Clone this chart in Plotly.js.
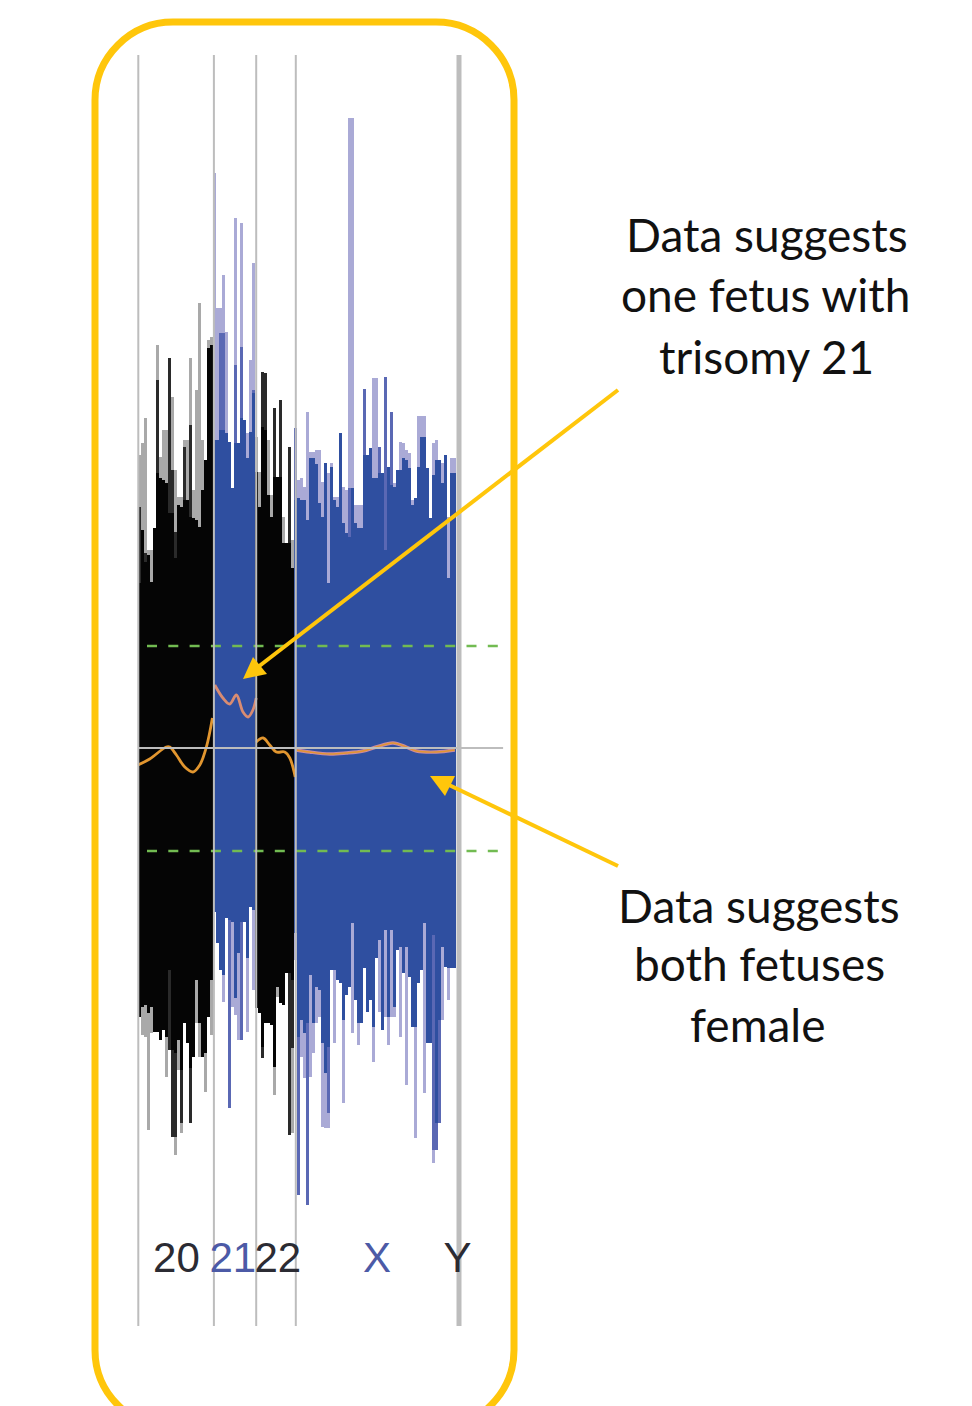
<!DOCTYPE html>
<html><head><meta charset="utf-8">
<script src="https://cdn.plot.ly/plotly-3.0.1.min.js"></script>
<style>html,body{margin:0;padding:0;background:#fff;overflow:hidden}#c{width:972px;height:1406px}.barlayer{filter:blur(.6px)}</style>
</head><body><div id="c"></div>
<script>
// Chromosome names and first bin of each chromosome
const chromosomes = ["20", "21", "22", "X"];
const chromStart = [0, 25, 39, 52];
const boundaries = [0.1, 25.3, 39.4, 52.6, 107];
const boundarySpan = [693, -578];
const tickBins = [12.8, 31.6, 46.6, 79.7, 106.5];
const tickLabels = ["20", "21", "22", "X", "Y"];
const tickColors = ["#2b2b33", "#4c5aa6", "#2b2b33", "#4c5aa6", "#2b2b33"];

// Upper (positive) envelope per bin: pale, mid, solid
const c20UpPale  = [293,305,330,198,198,220,403,291,318,318,390,351,278,251,251,308,308,390,258,358,445,308,288,408,411];
const c20UpMid   = [241,218,195,193,166,220,368,270,268,265,390,278,216,243,241,301,248,323,230,228,221,258,288,400,403];
const c20UpSolid = [165,218,186,193,166,220,275,270,268,265,235,235,190,243,241,248,248,231,230,228,221,258,288,400,403];
const c21UpPale  = [575,440,440,473,416,306,260,530,305,525,328,315,388,485];
const c21UpMid   = [308,308,415,415,315,306,260,383,305,401,328,290,316,358];
const c21UpSolid = [308,308,318,318,315,306,260,305,305,330,328,290,316,355];
const c22UpPale  = [311,276,376,375,308,253,340,271,348,231,205,301,208];
const c22UpMid   = [276,241,376,375,253,231,340,271,348,205,205,301,180];
const c22UpSolid = [276,241,321,318,253,231,271,271,271,205,205,205,180];
const cXUpPale   = [320,268,270,261,336,296,296,298,298,266,285,275,285,251,251,315,261,258,630,630,243,243,243,359,293,300,370,370,301,275,371,281,336,265,278,306,305,298,295,248,250,332,332,332,280,230,305,308,288,285,293,231,290,290];
const cXUpMid    = [320,250,248,248,228,290,290,284,245,231,285,165,281,248,241,315,225,215,260,260,225,220,220,359,293,300,270,270,301,275,371,281,336,261,278,278,290,288,280,243,250,281,311,311,280,230,273,288,288,265,293,170,275,275];
const cXUpSolid  = [248,250,248,248,228,290,290,284,245,231,285,165,281,248,241,315,225,215,211,260,225,220,220,293,293,300,270,270,275,275,198,281,263,261,278,278,290,288,280,243,250,281,311,311,280,230,273,288,288,265,293,170,275,275];

// Lower (negative) envelope per bin, as magnitudes: pale, mid, solid
const c20DnPale  = [269,287,289,382,285,284,284,292,282,329,302,389,407,322,385,275,295,375,309,275,309,309,344,269,287];
const c20DnMid   = [269,259,257,265,259,284,284,292,282,289,302,389,389,292,375,275,295,375,309,232,275,309,305,269,232];
const c20DnSolid = [269,259,257,265,259,284,284,292,282,289,222,302,305,292,322,275,295,320,309,232,275,309,305,269,232];
const c21DnPale  = [164,195,222,254,170,360,259,267,292,292,174,284,159,242];
const c21DnMid   = [164,195,222,227,170,360,174,250,205,292,174,210,159,162];
const c21DnSolid = [164,195,222,227,170,172,174,250,205,174,174,210,159,162];
const c22DnPale  = [260,265,310,275,275,277,347,249,255,257,225,387,385];
const c22DnMid   = [260,265,310,275,275,277,319,239,255,257,225,387,300];
const c22DnSolid = [260,265,299,275,275,277,319,239,255,257,225,225,232];
const cXDnPale   = [212,447,309,330,457,329,305,275,269,379,380,380,222,295,232,235,355,247,239,285,252,297,275,220,264,252,314,210,264,282,269,297,269,269,202,289,225,337,229,279,390,235,222,345,295,295,415,402,375,272,219,252,220,220];
const cXDnMid    = [185,447,272,285,457,227,275,239,242,295,325,365,222,222,232,235,272,247,239,175,252,275,275,220,264,252,279,210,192,282,182,269,182,259,202,199,225,199,229,279,279,235,222,175,295,295,402,402,375,199,219,220,220,220];
const cXDnSolid  = [185,289,272,285,275,227,275,239,242,295,325,299,222,222,232,235,272,247,239,175,252,275,275,220,264,252,279,210,192,282,182,269,182,259,202,199,225,199,229,279,279,235,222,175,295,295,187,375,272,199,219,220,220,220];

// Smoothed trend per chromosome
const c20TrendX = [0,3.9,9.4,10.6,12.8,15.6,18.3,20.6,22.8,24.8];
const c20TrendY = [-17,-11,1,1,-7,-19,-24,-17,1,30];
const c21TrendX = [25.6,28.3,30.6,32.8,35,36.7,38.3,39.4];
const c21TrendY = [63,50,44,53,36,31,38,50];
const c22TrendX = [39.4,41.7,43.9,46.1,48.9,50.6,52.4];
const c22TrendY = [6,10,3,-4,-4,-10,-29];
const cXTrendX  = [52.8,57.2,63.9,69.4,75,79.4,85,89.4,92.8,99.4,105.6];
const cXTrendY  = [-2,-4,-6,-5,-3,1,5,1,-3,-4,-2];

// Reference levels
const thresholdHigh = 102;
const thresholdLow = -103;
const refSpan = [3, 122];
const zeroSpan = [0, 121.7];

// Callouts
const noteTop = ["Data suggests", "one fetus with", "trisomy 21"];
const noteBottom = ["Data suggests", "both fetuses", "female"];

const PLOT_H = 1330, AXIS_PX = 1229, W = 972;
const px = p => p / W, py = p => (PLOT_H - p) / PLOT_H;

const blackShades = ["#a9a9a9", "#2a2a2a", "#050505"];
const blueShades = ["#aaaad6", "#5a68b4", "#2f4fa0"];
const groups = [
  {up:[c20UpPale,c20UpMid,c20UpSolid], dn:[c20DnPale,c20DnMid,c20DnSolid], shades:blackShades},
  {up:[c21UpPale,c21UpMid,c21UpSolid], dn:[c21DnPale,c21DnMid,c21DnSolid], shades:blueShades},
  {up:[c22UpPale,c22UpMid,c22UpSolid], dn:[c22DnPale,c22DnMid,c22DnSolid], shades:blackShades},
  {up:[cXUpPale,cXUpMid,cXUpSolid], dn:[cXDnPale,cXDnMid,cXDnSolid], shades:blueShades}
];
const traces = [];
groups.forEach((g, gi) => {
  [0,1,2].forEach(level => {
    const xs = g.up[level].map((_, i) => chromStart[gi] + i + 0.5);
    traces.push({type:"bar", name:chromosomes[gi], x:xs, y:g.up[level], width:1, marker:{color:g.shades[level], line:{width:0}}, hoverinfo:"skip"});
    traces.push({type:"bar", name:chromosomes[gi], x:xs, y:g.dn[level].map(v => -v), width:1, marker:{color:g.shades[level], line:{width:0}}, hoverinfo:"skip"});
  });
});
const lineTrace = (x, y, color, width, extra) => ({type:"scatter", mode:"lines", x, y, hoverinfo:"skip", line:Object.assign({color, width}, extra || {})});
traces.push(lineTrace(c20TrendX, c20TrendY, "#e2962f", 2.8, {shape:"spline"}));
traces.push(lineTrace(c21TrendX, c21TrendY, "#d98c72", 2.8, {shape:"spline"}));
traces.push(lineTrace(c22TrendX, c22TrendY, "#e2962f", 2.8, {shape:"spline"}));
traces.push(lineTrace(cXTrendX, cXTrendY, "#c98aa0", 3.4, {shape:"spline"}));
traces.push(lineTrace(cXTrendX, cXTrendY, "#e2962f", 1.4, {shape:"spline"}));
traces.push(lineTrace(refSpan, [thresholdHigh, thresholdHigh], "#72bb52", 2.4, {dash:"10px,11.3px"}));
traces.push(lineTrace(refSpan, [thresholdLow, thresholdLow], "#72bb52", 2.4, {dash:"10px,11.3px"}));
traces.push(lineTrace(zeroSpan, [0, 0], "#bdbdbd", 2));
boundaries.forEach((b, i) => traces.push(lineTrace([b, b], boundarySpan, "#bdbdbd", i === boundaries.length - 1 ? 5 : 2)));

const YEL = "#ffc60b";
const shapes = [];
function roundRect(l, t, r, b, rad) {
  const k = rad * 0.45;
  const P = (x, y) => px(x) + "," + py(y);
  return "M" + P(l + rad, t) + " L" + P(r - rad, t) + " C" + P(r - k, t) + " " + P(r, t + k) + " " + P(r, t + rad) +
    " L" + P(r, b - rad) + " C" + P(r, b - k) + " " + P(r - k, b) + " " + P(r - rad, b) +
    " L" + P(l + rad, b) + " C" + P(l + k, b) + " " + P(l, b - k) + " " + P(l, b - rad) +
    " L" + P(l, t + rad) + " C" + P(l, t + k) + " " + P(l + k, t) + " " + P(l + rad, t) + " Z";
}
shapes.push({type:"path", xref:"paper", yref:"paper", path:roundRect(95, 22, 514, 1428, 78), line:{color:YEL, width:7}, layer:"above"});
function arrow(x0, y0, x1, y1, tri) {
  shapes.push({type:"line", xref:"paper", yref:"paper", x0:px(x0), y0:py(y0), x1:px(x1), y1:py(y1), line:{color:YEL, width:4}, layer:"above"});
  const d = tri.map((p, i) => (i ? "L" : "M") + px(p[0]) + "," + py(p[1])).join(" ") + " Z";
  shapes.push({type:"path", xref:"paper", yref:"paper", path:d, fillcolor:YEL, line:{color:YEL, width:0}, layer:"above"});
}
arrow(618, 390, 258, 667, [[243, 679], [253, 657], [267, 674]]);
arrow(618, 866, 447, 784, [[430, 776], [455, 776], [445, 796]]);

const note = (text, x, y) => ({text, xref:"paper", yref:"paper", x:px(x), y:py(y), xanchor:"center", yanchor:"middle", showarrow:false,
  font:{family:"Lato, sans-serif", size:46, color:"#111111"}});
const annotations = [
  note(noteTop[0], 767, 235), note(noteTop[1], 766, 294), note(noteTop[2], 766, 356),
  note(noteBottom[0], 759, 906), note(noteBottom[1], 759, 964), note(noteBottom[2], 758, 1024)
];

Plotly.newPlot("c", traces, {
  width:972, height:1406, margin:{l:0, r:0, t:0, b:1406 - PLOT_H, pad:0}, showlegend:false,
  paper_bgcolor:"rgba(0,0,0,0)", plot_bgcolor:"rgba(0,0,0,0)",
  barmode:"overlay", bargap:0,
  xaxis:{range:[-46, 278], anchor:"free", position:py(AXIS_PX), showgrid:false, zeroline:false, showline:false, ticks:"", automargin:false,
    tickmode:"array", tickvals:tickBins,
    ticktext:tickLabels.map((t, i) => '<span style="color:' + tickColors[i] + '">' + t + '</span>'),
    tickangle:0, tickfont:{family:"Liberation Sans, Arial, sans-serif", size:42, color:"#2b2b33"}},
  yaxis:{range:[748 - PLOT_H, 748], visible:false, showgrid:false, zeroline:false, automargin:false},
  shapes, annotations
}, {displayModeBar:false, staticPlot:true});
</script></body></html>
